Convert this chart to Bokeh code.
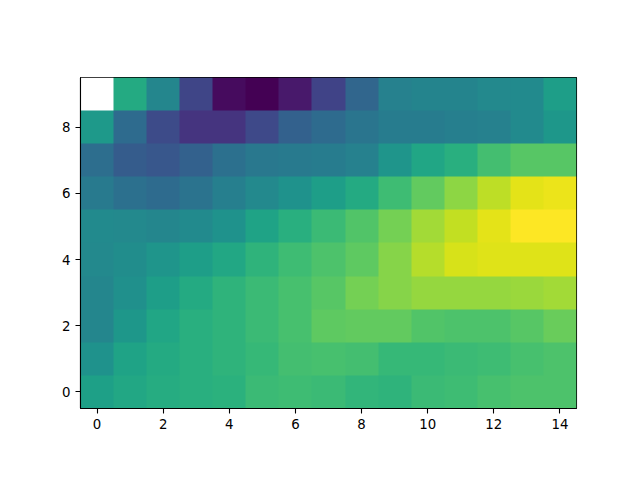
import numpy as np
from bokeh.plotting import figure
from bokeh.models import LinearColorMapper, FixedTicker
from bokeh.palettes import Viridis256
from bokeh.embed import file_html
from bokeh.resources import INLINE

# rows listed from y=9 (top) to y=0 (bottom)
row9 = [np.nan, .61, .46, .21, .03, .00, .07, .20, .33, .44, .45, .45, .47, .48, .56]
row8 = [.54, .35, .23, .15, .15, .22, .31, .35, .39, .42, .42, .43, .44, .48, .53]
row7 = [.36, .29, .27, .31, .37, .40, .41, .42, .44, .52, .59, .63, .70, .74, .74]
row6 = [.41, .37, .35, .38, .43, .47, .51, .56, .61, .69, .76, .83, .90, .96, .97]
row5 = [.48, .47, .46, .48, .51, .58, .63, .68, .73, .79, .86, .91, .96, 1.0, 1.0]
row4 = [.47, .49, .52, .56, .60, .65, .69, .72, .75, .82, .89, .94, .95, .95, .95]
row3 = [.46, .50, .56, .61, .65, .68, .71, .74, .79, .82, .84, .84, .84, .85, .86]
row2 = [.46, .53, .59, .63, .65, .68, .71, .75, .76, .76, .73, .72, .72, .74, .77]
row1 = [.51, .58, .61, .63, .65, .67, .70, .71, .70, .67, .67, .68, .69, .71, .72]
row0 = [.57, .60, .62, .63, .64, .68, .69, .68, .66, .65, .68, .69, .71, .72, .72]
x_ticks = [0, 2, 4, 6, 8, 10, 12, 14]
y_ticks = [0, 2, 4, 6, 8]

grid = np.array([row0, row1, row2, row3, row4, row5, row6, row7, row8, row9], dtype=float)
nrows, ncols = grid.shape

p = figure(width=640, height=480, output_backend="svg", toolbar_location=None,
           x_range=(-0.5, ncols - 0.5), y_range=(-0.5, nrows - 0.5),
           min_border_left=80, min_border_right=64, min_border_top=77, min_border_bottom=72)
mapper = LinearColorMapper(palette=Viridis256, low=0, high=1, nan_color="white")
p.image(image=[grid], x=-0.5, y=-0.5, dw=ncols, dh=nrows, color_mapper=mapper)

p.grid.visible = False
p.background_fill_color = "white"
p.border_fill_color = "white"
p.outline_line_color = "black"
p.outline_line_width = 1.1
for ax, ticks in ((p.xaxis[0], x_ticks), (p.yaxis[0], y_ticks)):
    ax.ticker = FixedTicker(ticks=ticks)
    ax.major_tick_in = 0
    ax.major_tick_out = 5
    ax.minor_tick_line_color = None
    ax.major_tick_line_color = "black"
    ax.major_tick_line_width = 1.1
    ax.axis_line_color = "black"
    ax.axis_line_width = 1.1
    ax.major_label_text_font = "DejaVu Sans"
    ax.major_label_text_font_size = "13.33px"
    ax.major_label_text_color = "black"
    ax.major_label_standoff = 5

open("out.html", "w").write(file_html(p, INLINE))
